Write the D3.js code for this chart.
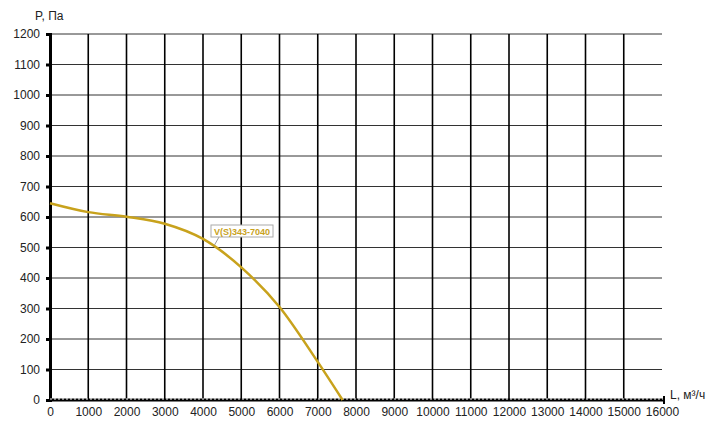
<!DOCTYPE html>
<html><head><meta charset="utf-8">
<script src="https://cdn.jsdelivr.net/npm/d3@7"></script>
<style>body{margin:0;background:#fff}svg{display:block}text{font-family:"Liberation Sans",Arial,sans-serif}</style>
</head><body>
<svg id="c" width="720" height="436"></svg>
<script>
const xTicks = [0,1000,2000,3000,4000,5000,6000,7000,8000,9000,10000,11000,12000,13000,14000,15000,16000];
const yTicks = [0,100,200,300,400,500,600,700,800,900,1000,1100,1200];
const flowL = [0,1000,2000,3000,4000,5000,6000,7000,7650];
const pressP = [645,616,601,578,528,435,305,125,0];
const seriesName = "V(S)343-7040";
const xTitle = "L, м³/ч", yTitle = "P, Па";

const svg = d3.select("#c");
const x = d3.scaleLinear().domain([0,16000]).range([50,662]);
const y = d3.scaleLinear().domain([0,1200]).range([400,34]);

// horizontal grid
svg.append("g").selectAll("line").data(yTicks.filter(d=>d>0)).join("line")
  .attr("x1",x(0)).attr("x2",x(16000)).attr("y1",d=>y(d)).attr("y2",d=>y(d))
  .attr("stroke","#333").attr("stroke-width",1);
// vertical grid
svg.append("g").selectAll("line").data(xTicks.filter(d=>d>0&&d<16000)).join("line")
  .attr("x1",d=>x(d)).attr("x2",d=>x(d)).attr("y1",y(0)).attr("y2",y(1200))
  .attr("stroke","#000").attr("stroke-width",1.6);

// y axis
const ya = svg.append("g").attr("transform",`translate(${x(0)},0)`)
  .call(d3.axisLeft(y).tickValues(yTicks).tickSize(4).tickPadding(6).tickFormat(d3.format("d")));
ya.select(".domain").attr("stroke","#000").attr("stroke-width",3);
ya.selectAll(".tick line").attr("stroke","#000").attr("stroke-width",3);
ya.selectAll("text").attr("font-size",12).attr("fill","#222");

// x axis
const xa = svg.append("g").attr("transform",`translate(0,${y(0)})`)
  .call(d3.axisBottom(x).tickValues(xTicks).tickSize(0).tickPadding(7).tickFormat(d3.format("d")));
xa.select(".domain").remove();
xa.selectAll("text").attr("font-size",12).attr("fill","#222");
svg.append("line").attr("x1",x(0)).attr("x2",664).attr("y1",y(0)).attr("y2",y(0))
  .attr("stroke","#000").attr("stroke-width",3);
svg.append("line").attr("x1",x(0)).attr("x2",664).attr("y1",y(0)-1).attr("y2",y(0)-1)
  .attr("stroke","#fff").attr("stroke-width",1).attr("stroke-dasharray","2,2");
svg.append("line").attr("x1",664).attr("x2",664).attr("y1",y(0)-4).attr("y2",y(0)+4)
  .attr("stroke","#000").attr("stroke-width",2);

// titles
svg.append("text").attr("x",35).attr("y",20).attr("font-size",12).attr("fill","#222").text(yTitle);
svg.append("text").attr("x",670).attr("y",399).attr("font-size",12).attr("fill","#222").text(xTitle);

// curve
const line = d3.line().x((d,i)=>x(flowL[i])).y(d=>y(d)).curve(d3.curveMonotoneX);
svg.append("path").datum(pressP).attr("d",line).attr("fill","none")
  .attr("stroke","#c8a21c").attr("stroke-width",2.5);

// label
const lx = 211, ly = 225;
svg.append("line").attr("x1",lx+8).attr("y1",ly+12).attr("x2",x(4300)).attr("y2",y(508))
  .attr("stroke","#999").attr("stroke-width",1);
svg.append("rect").attr("x",lx).attr("y",ly).attr("width",62).attr("height",12)
  .attr("fill","#fff").attr("stroke","#aaa").attr("stroke-width",1);
svg.append("text").attr("x",lx+31).attr("y",ly+9.5).attr("text-anchor","middle")
  .attr("font-size",9).attr("font-weight","bold").attr("fill","#c8a21c").text(seriesName);
</script>
</body></html>
